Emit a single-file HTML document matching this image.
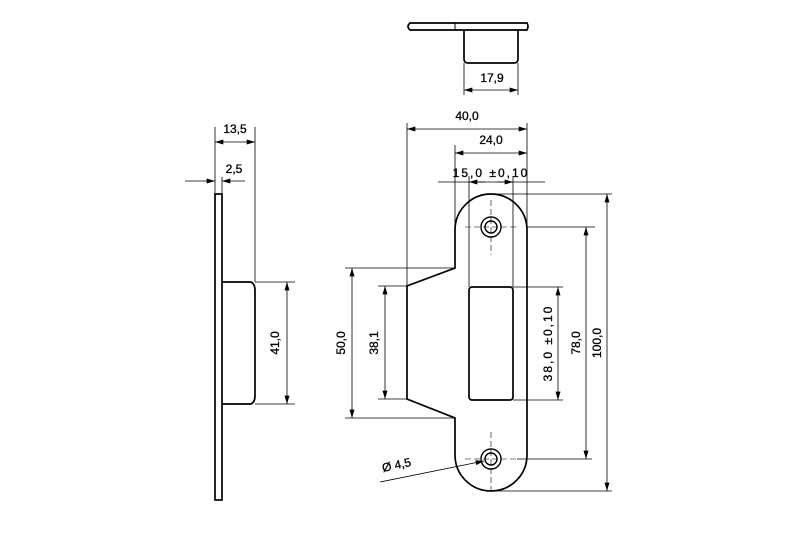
<!DOCTYPE html>
<html><head><meta charset="utf-8"><style>
html,body{margin:0;padding:0;background:#fff;}
svg{display:block;}
text{font-family:"Liberation Sans",sans-serif;font-size:12px;fill:#000;stroke:#000;stroke-width:0.3;}
</style></head><body>
<svg width="800" height="533" viewBox="0 0 800 533" xmlns="http://www.w3.org/2000/svg">
<defs>
<marker id="a" viewBox="0 0 10 6" refX="10" refY="3" markerWidth="9" markerHeight="5" orient="auto-start-reverse" markerUnits="userSpaceOnUse"><path d="M0,0 L10,3 L0,6 z" fill="#000"/></marker>
</defs>
<g fill="none" stroke="#000">
<path d="M410,23 L527,23 Q529,26.5 527,30 L410,30 Q406,26.5 410,23 Z" stroke-width="1.7"/>
<line x1="455" y1="23" x2="455" y2="30" stroke-width="1"/>
<path d="M464,30 L464,59 Q464,63 468,63 L514,63 Q518,63 518,59 L518,30" stroke-width="1.7"/>
<g stroke-width="0.8">
<line x1="464" y1="63" x2="464" y2="95"/><line x1="518" y1="63" x2="518" y2="95"/>
<line x1="464" y1="90" x2="518" y2="90" marker-start="url(#a)" marker-end="url(#a)"/>
</g>
<rect x="215" y="194" width="7" height="306" stroke-width="1.7"/>
<path d="M222,282 L251,282 Q255,284 255,290 L255,396 Q255,402 251,404 L222,404" stroke-width="1.7"/>
<g stroke-width="0.8">
<line x1="215" y1="127" x2="215" y2="194"/><line x1="255" y1="127" x2="255" y2="282"/>
<line x1="215" y1="142" x2="255" y2="142" marker-start="url(#a)" marker-end="url(#a)"/>
<line x1="222" y1="177" x2="222" y2="194"/>
<line x1="185" y1="181" x2="215" y2="181" marker-end="url(#a)"/>
<line x1="245" y1="181" x2="222" y2="181" marker-end="url(#a)"/>
<line x1="255" y1="282" x2="295" y2="282"/><line x1="255" y1="404" x2="295" y2="404"/>
<line x1="287" y1="282" x2="287" y2="404" marker-start="url(#a)" marker-end="url(#a)"/>
</g>
<path d="M455,268 L455,230 A36,36 0 0 1 527,230 L527,455 A36,36 0 0 1 455,455 L455,418 L407,399 L407,286 Z" stroke-width="1.7"/>
<rect x="469" y="287" width="44" height="113" rx="3" stroke-width="1.7"/>
<circle cx="491" cy="227" r="10" stroke-width="1.4"/><circle cx="491" cy="227" r="6" stroke-width="1.4"/>
<circle cx="491" cy="459" r="10" stroke-width="1.4"/><circle cx="491" cy="459" r="6" stroke-width="1.4"/>
<g stroke-width="0.6" stroke-dasharray="6,3">
<line x1="491" y1="200" x2="491" y2="255"/><line x1="465" y1="227" x2="517" y2="227"/>
<line x1="491" y1="432" x2="491" y2="490"/><line x1="465" y1="459" x2="517" y2="459"/>
</g>
<g stroke-width="0.8">
<line x1="407" y1="123" x2="407" y2="286"/><line x1="527" y1="123" x2="527" y2="230"/>
<line x1="407" y1="129" x2="527" y2="129" marker-start="url(#a)" marker-end="url(#a)"/>
<line x1="455" y1="145" x2="455" y2="268"/>
<line x1="455" y1="153" x2="527" y2="153" marker-start="url(#a)" marker-end="url(#a)"/>
<line x1="469" y1="176" x2="469" y2="287"/><line x1="513" y1="176" x2="513" y2="287"/>
<line x1="438" y1="182" x2="545" y2="182"/>
<line x1="485" y1="182" x2="469" y2="182" marker-end="url(#a)"/>
<line x1="497" y1="182" x2="513" y2="182" marker-end="url(#a)"/>
<line x1="345" y1="268" x2="455" y2="268"/><line x1="345" y1="418" x2="455" y2="418"/>
<line x1="352" y1="268" x2="352" y2="418" marker-start="url(#a)" marker-end="url(#a)"/>
<line x1="378" y1="286" x2="407" y2="286"/><line x1="378" y1="399" x2="407" y2="399"/>
<line x1="385" y1="286" x2="385" y2="399" marker-start="url(#a)" marker-end="url(#a)"/>
<line x1="513" y1="287" x2="563" y2="287"/><line x1="513" y1="400" x2="563" y2="400"/>
<line x1="558" y1="287" x2="558" y2="400" marker-start="url(#a)" marker-end="url(#a)"/>
<line x1="527" y1="227" x2="595" y2="227"/><line x1="517" y1="459" x2="592" y2="459"/>
<line x1="586" y1="227" x2="586" y2="459" marker-start="url(#a)" marker-end="url(#a)"/>
<line x1="491" y1="194" x2="612" y2="194"/><line x1="491" y1="491" x2="612" y2="491"/>
<line x1="607" y1="194" x2="607" y2="491" marker-start="url(#a)" marker-end="url(#a)"/>
<line x1="380" y1="482" x2="484" y2="461" marker-end="url(#a)"/>
</g>
</g>
<text x="492" y="82" text-anchor="middle">17,9</text>
<text x="235" y="133" text-anchor="middle">13,5</text>
<text x="234" y="173" text-anchor="middle">2,5</text>
<text x="467" y="120" text-anchor="middle">40,0</text>
<text x="491" y="144" text-anchor="middle">24,0</text>
<text x="491" y="177" text-anchor="middle" letter-spacing="2">15,0 ±0,10</text>
<text transform="translate(279,343) rotate(-90)" text-anchor="middle">41,0</text>
<text transform="translate(345,343) rotate(-90)" text-anchor="middle">50,0</text>
<text transform="translate(378,343) rotate(-90)" text-anchor="middle">38,1</text>
<text transform="translate(552,343) rotate(-90)" text-anchor="middle" letter-spacing="2">38,0 ±0,10</text>
<text transform="translate(580,343) rotate(-90)" text-anchor="middle">78,0</text>
<text transform="translate(601,343) rotate(-90)" text-anchor="middle">100,0</text>
<text transform="translate(383,472) rotate(-12)">Ø 4,5</text>
</svg>
</body></html>
